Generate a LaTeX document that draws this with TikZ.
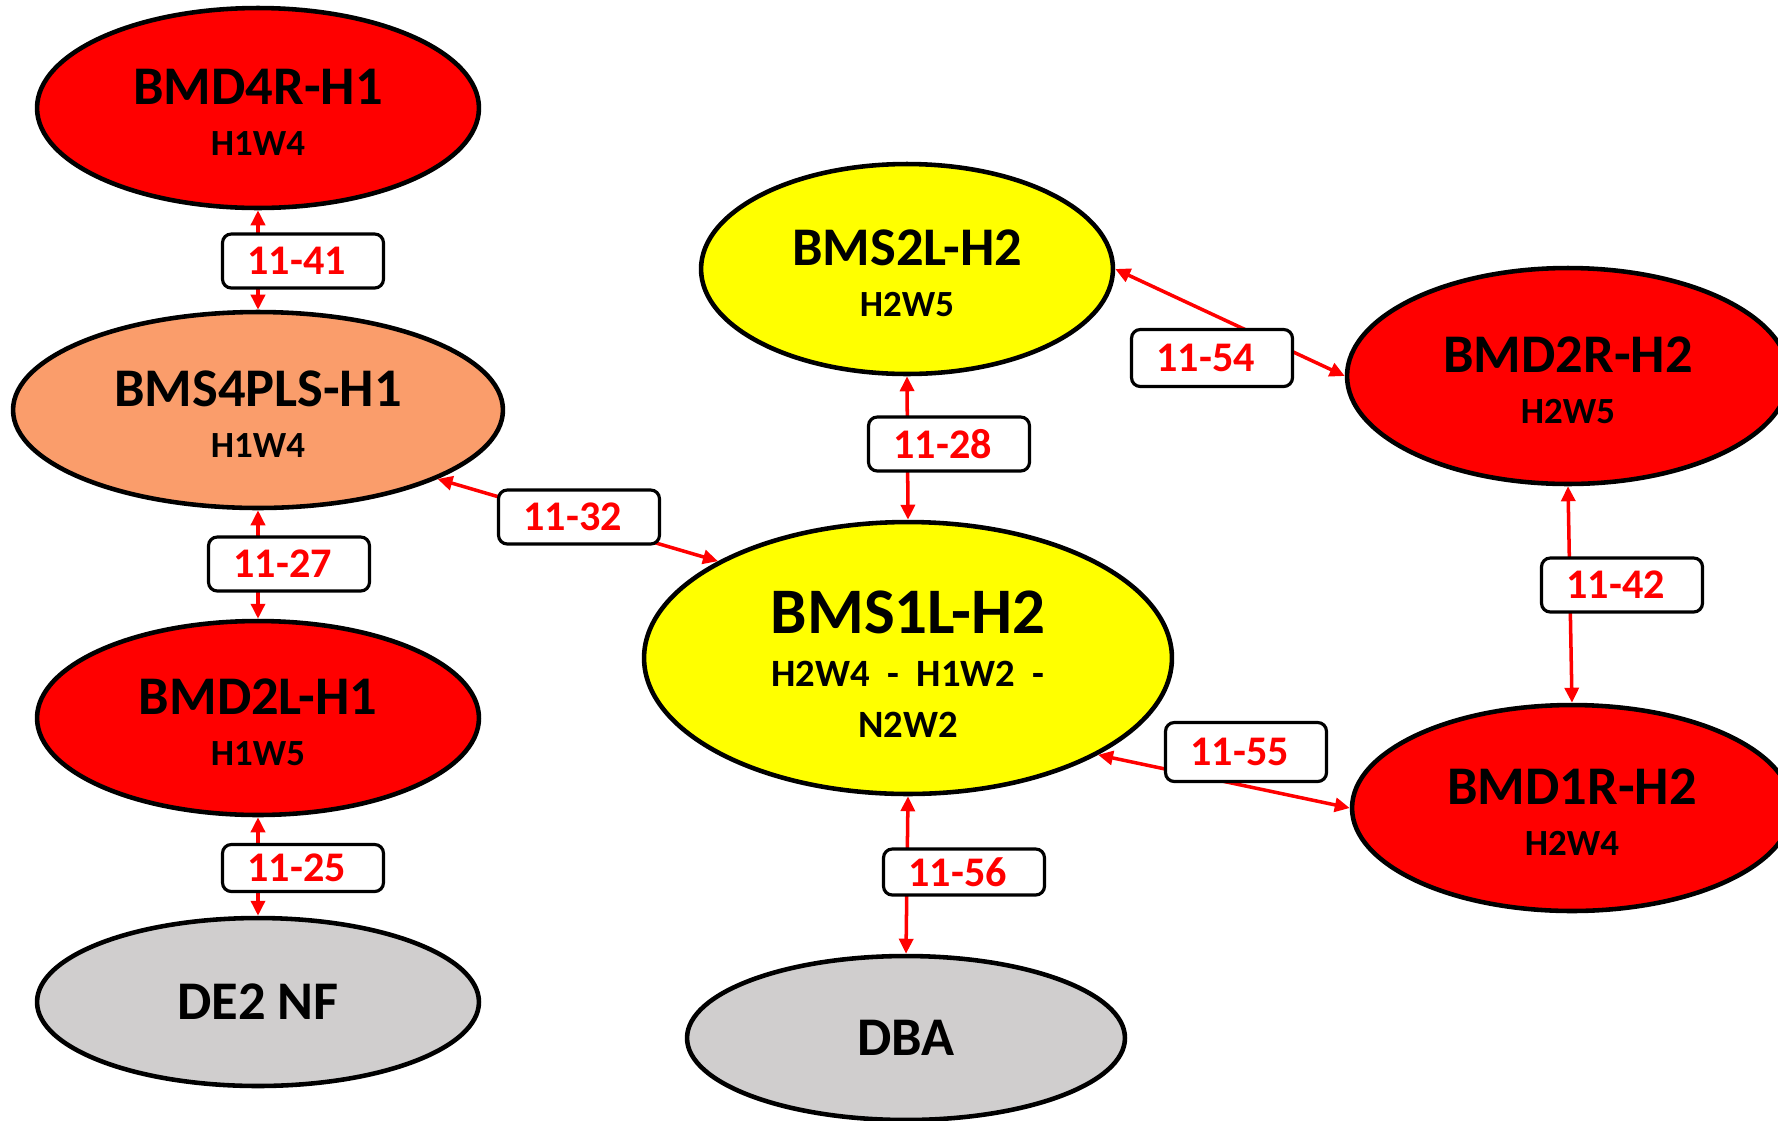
\documentclass[tikz,border=0pt]{standalone}
\usepackage{fontspec}
\setmainfont{Carlito}
\usetikzlibrary{shapes,arrows.meta,calc}
\definecolor{hotred}{RGB}{255,0,0}
\definecolor{salmon}{RGB}{250,157,107}
\definecolor{sunyellow}{RGB}{255,255,0}
\definecolor{ashgrey}{RGB}{208,206,206}
\newcommand{\subsize}{\fontsize{21}{25}\selectfont}
\newcommand{\topgap}{\rule{0pt}{25pt}}

\begin{document}
\begin{tikzpicture}[
  x=0.02cm, y=-0.02cm,
  blob/.style={
    ellipse,
    draw=black,
    line width=2.6pt,
    fill=#1,
    inner sep=0pt,
    align=center,
    font=\fontsize{31}{29}\selectfont\bfseries
  },
  lbl/.style={
    draw=black,
    line width=1.8pt,
    rounded corners=5pt,
    fill=white,
    text=hotred,
    minimum height=1.08cm,
    text width=2.22cm,
    inner xsep=0.5cm,
    align=left,
    font=\fontsize{24}{26}\selectfont\bfseries
  },
  link/.style={
    hotred,
    line width=2pt,
    {Triangle[length=0.3cm,width=0.28cm]}-{Triangle[length=0.3cm,width=0.28cm]}
  }
]
\useasboundingbox (0,0) rectangle (1778,1120);

% -------- Left column --------
\node[blob=hotred, minimum width=8.84cm, minimum height=4.0cm] (bmd4r) at (258,108)
{\topgap BMD4R-H1\\[0pt]\subsize H1W4};

\node[blob=salmon, minimum width=9.8cm, minimum height=3.92cm] (bms4pls) at (258,410)
{\topgap BMS4PLS-H1\\[0pt]\subsize H1W4};

\node[blob=hotred, minimum width=8.84cm, minimum height=3.88cm] (bmd2l) at (258,718)
{\topgap BMD2L-H1\\[0pt]\subsize H1W5};

\node[blob=ashgrey, minimum width=8.84cm, minimum height=3.36cm] (de2nf) at (258,1002)
{DE2 NF};

% -------- Middle column --------
\node[blob=sunyellow, minimum width=8.24cm, minimum height=4.2cm] (bms2l) at (907,269)
{\topgap BMS2L-H2\\[0pt]\subsize H2W5};

\node[blob=sunyellow, minimum width=10.56cm, minimum height=5.44cm,
      font=\fontsize{37}{30}\selectfont\bfseries] (bms1l) at (908,658)
{\rule{0pt}{31pt}BMS1L-H2\\[0pt]{\fontsize{22}{26}\selectfont H2W4~~-~~H1W2~~-}\\[-1pt]
{\fontsize{22}{26}\selectfont N2W2}};

\node[blob=ashgrey, minimum width=8.76cm, minimum height=3.28cm] (dba) at (906,1038)
{DBA};

% -------- Right column --------
\node[blob=hotred, minimum width=8.84cm, minimum height=4.32cm] (bmd2r) at (1568,376)
{\topgap BMD2R-H2\\[0pt]\subsize H2W5};

\node[blob=hotred, minimum width=8.8cm, minimum height=4.12cm] (bmd1r) at (1572,808)
{\topgap BMD1R-H2\\[0pt]\subsize H2W4};

% -------- Links --------
\draw[link] (bmd4r.south) -- (bms4pls.north);
\draw[link] (bms4pls.south) -- (bmd2l.north);
\draw[link] (bmd2l.south) -- (de2nf.north);
\draw[link] (bms4pls.-21) -- (bms1l.153);
\draw[link] (bms2l.south) -- (bms1l.north);
\draw[link] (bms1l.south) -- (dba.north);
\draw[link] (bms2l.east) -- (bmd2r.west);
\draw[link] (bms1l.-27) -- (bmd1r.west);
\draw[link] (bmd2r.south) -- (bmd1r.north);

% -------- Link labels --------
\node[lbl] (l1141) at (303,261) {11-41};
\node[lbl] (l1127) at (289,564) {11-27};
\node[lbl, minimum height=0.94cm] (l1125) at (303,868) {11-25};
\node[lbl] (l1132) at (579,517) {11-32};
\node[lbl] (l1128) at (949,444) {11-28};
\node[lbl, minimum height=0.92cm] (l1156) at (964,872) {11-56};
\node[lbl, minimum height=1.14cm] (l1154) at (1212,358) {11-54};
\node[lbl] (l1142) at (1622,585) {11-42};
\node[lbl, minimum height=1.18cm] (l1155) at (1246,752) {11-55};

\end{tikzpicture}
\end{document}
